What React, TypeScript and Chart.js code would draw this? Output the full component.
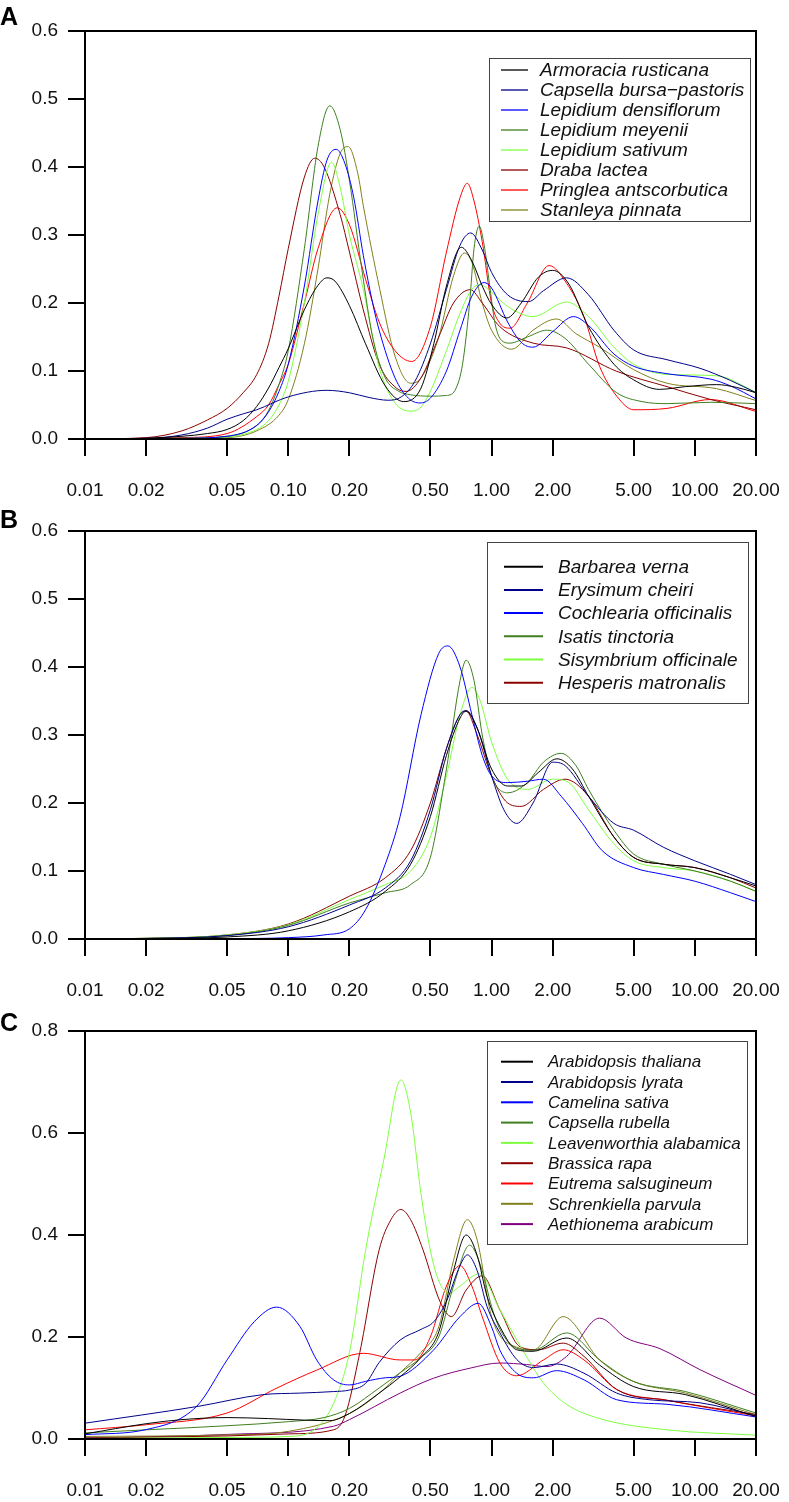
import React, { useEffect, useRef } from "react";
import { Chart, registerables } from "chart.js";

Chart.register(...registerables);

// ---------- tick values ----------
const X_TICKS = [0.01, 0.02, 0.05, 0.1, 0.2, 0.5, 1, 2, 5, 10, 20];
const Y_TICKS_AB = [0, 0.1, 0.2, 0.3, 0.4, 0.5, 0.6];
const Y_TICKS_C = [0, 0.2, 0.4, 0.6, 0.8];

// ---------- colours ----------
const C_BLACK = "#000000";
const C_NAVY = "#00008B";
const C_BLUE = "#0000FF";
const C_DKGREEN = "#3F7F1F";
const C_LTGREEN = "#7FFF3F";
const C_DKRED = "#8B0000";
const C_RED = "#FF0000";
const C_OLIVE = "#80801F";
const C_PURPLE = "#800080";

// ---------- panel A series: [x, density] ----------
const armoraciaRusticana = [[0.01,0],[0.02,0.001],[0.03,0.004],[0.04,0.008],[0.05,0.014],[0.06,0.027],[0.07,0.048],[0.08,0.075],[0.09,0.105],[0.1,0.133],[0.12,0.19],[0.14,0.226],[0.155,0.237],[0.17,0.232],[0.2,0.196],[0.24,0.14],[0.3,0.078],[0.37,0.055],[0.45,0.075],[0.52,0.14],[0.6,0.225],[0.71,0.282],[0.8,0.262],[0.9,0.225],[1.0,0.198],[1.19,0.178],[1.4,0.2],[1.7,0.238],[2.0,0.248],[2.4,0.228],[3,0.165],[4,0.11],[5,0.087],[6.7,0.073],[9,0.077],[12.8,0.08],[16,0.076],[20,0.068]];
const capsellaBursaPastoris = [[0.01,0],[0.02,0.001],[0.03,0.006],[0.04,0.016],[0.05,0.029],[0.06,0.037],[0.07,0.043],[0.1,0.062],[0.155,0.0716],[0.2,0.068],[0.25,0.061],[0.31,0.057],[0.36,0.062],[0.42,0.085],[0.5,0.14],[0.6,0.22],[0.7,0.285],[0.79,0.303],[0.9,0.278],[1.0,0.245],[1.2,0.212],[1.52,0.202],[1.8,0.218],[2.34,0.237],[3,0.212],[4,0.16],[5,0.131],[7.3,0.1166],[10.6,0.104],[15,0.086],[20,0.068]];
const lepidiumDensiflorum = [[0.01,0],[0.03,0.001],[0.05,0.004],[0.07,0.02],[0.08,0.04],[0.09,0.07],[0.1,0.11],[0.12,0.225],[0.14,0.35],[0.155,0.41],[0.172,0.426],[0.19,0.405],[0.21,0.355],[0.234,0.27],[0.26,0.2],[0.28,0.16],[0.335,0.09],[0.39,0.06],[0.445,0.053],[0.5,0.06],[0.6,0.1],[0.7,0.16],[0.8,0.21],[0.92,0.23],[1.0,0.222],[1.2,0.172],[1.4,0.142],[1.6,0.135],[2.0,0.158],[2.53,0.18],[3,0.167],[4,0.125],[5,0.107],[7.3,0.096],[12,0.088],[15,0.078],[20,0.059]];
const lepidiumMeyenii = [[0.01,0],[0.03,0.001],[0.05,0.004],[0.07,0.02],[0.08,0.042],[0.09,0.08],[0.1,0.13],[0.12,0.28],[0.14,0.43],[0.16,0.49],[0.18,0.455],[0.2,0.38],[0.23,0.25],[0.26,0.15],[0.3,0.09],[0.35,0.07],[0.4,0.065],[0.5,0.063],[0.6,0.064],[0.67,0.075],[0.72,0.11],[0.78,0.2],[0.82,0.28],[0.87,0.313],[0.92,0.285],[0.97,0.235],[1.04,0.17],[1.12,0.145],[1.23,0.141],[1.5,0.15],[1.87,0.16],[2.3,0.148],[3,0.11],[4.13,0.068],[5.5,0.055],[7.3,0.052],[12,0.054],[20,0.052]];
const lepidiumSativum = [[0.01,0],[0.03,0.001],[0.05,0.003],[0.07,0.014],[0.08,0.027],[0.09,0.05],[0.1,0.085],[0.12,0.2],[0.14,0.33],[0.1635,0.407],[0.18,0.37],[0.2,0.3],[0.234,0.22],[0.26,0.15],[0.282,0.102],[0.335,0.053],[0.405,0.041],[0.45,0.047],[0.5,0.07],[0.6,0.13],[0.7,0.185],[0.8,0.22],[0.877,0.227],[1.0,0.216],[1.2,0.195],[1.6,0.18],[2.34,0.2015],[3,0.18],[4,0.135],[5,0.11],[7.3,0.095],[12.8,0.093],[20,0.069]];
const drabaLactea = [[0.01,0],[0.02,0.002],[0.03,0.012],[0.04,0.028],[0.05,0.045],[0.06,0.068],[0.07,0.095],[0.08,0.14],[0.09,0.21],[0.1,0.28],[0.12,0.385],[0.135,0.413],[0.15,0.4],[0.18,0.33],[0.2,0.275],[0.234,0.19],[0.28,0.11],[0.34,0.075],[0.38,0.07],[0.45,0.09],[0.55,0.15],[0.65,0.2],[0.786,0.2196],[0.9,0.2],[1.1,0.165],[1.6,0.141],[2.34,0.134],[4.13,0.0995],[7.3,0.077],[12,0.058],[20,0.043]];
const pringleaAntscorbutica = [[0.01,0],[0.03,0.002],[0.05,0.008],[0.07,0.033],[0.08,0.05],[0.09,0.08],[0.1,0.11],[0.12,0.2],[0.14,0.28],[0.174,0.34],[0.2,0.315],[0.24,0.235],[0.28,0.172],[0.335,0.13],[0.405,0.114],[0.5,0.165],[0.6,0.275],[0.7,0.355],[0.76,0.376],[0.82,0.35],[0.9,0.29],[1.0,0.2],[1.1,0.17],[1.233,0.163],[1.5,0.2],[1.92,0.255],[2.34,0.229],[2.85,0.18],[3.4,0.107],[4.13,0.063],[5,0.043],[7.3,0.045],[11.9,0.058],[20,0.0406]];
const stanleyaPinnata = [[0.01,0],[0.03,0.001],[0.05,0.002],[0.07,0.012],[0.09,0.035],[0.1,0.058],[0.12,0.14],[0.14,0.25],[0.16,0.36],[0.18,0.42],[0.197,0.43],[0.22,0.39],[0.234,0.343],[0.282,0.22],[0.335,0.122],[0.4,0.082],[0.45,0.09],[0.55,0.15],[0.65,0.24],[0.735,0.2735],[0.8,0.26],[0.9,0.2],[1.0,0.16],[1.256,0.132],[1.6,0.16],[2.09,0.1765],[2.6,0.155],[3.4,0.135],[5,0.102],[7.3,0.082],[12.8,0.074],[20,0.0565]];

// ---------- panel B series ----------
const barbareaVerna = [[0.01,0],[0.02,0.0005],[0.05,0.003],[0.1,0.012],[0.2,0.04],[0.3,0.07],[0.4,0.11],[0.5,0.18],[0.6,0.27],[0.7,0.325],[0.75,0.335],[0.85,0.31],[1.0,0.25],[1.2,0.225],[1.4,0.225],[1.7,0.245],[2.1,0.265],[2.5,0.25],[3,0.21],[4,0.15],[5,0.12],[7,0.11],[10,0.105],[15,0.09],[20,0.078]];
const erysimumCheiri = [[0.01,0],[0.02,0.0008],[0.05,0.005],[0.1,0.018],[0.2,0.05],[0.3,0.075],[0.4,0.115],[0.5,0.19],[0.6,0.28],[0.7,0.33],[0.75,0.336],[0.85,0.31],[1.0,0.24],[1.15,0.19],[1.33,0.17],[1.6,0.2],[2.0,0.26],[2.3,0.255],[3,0.21],[4,0.17],[5,0.16],[7,0.135],[10,0.115],[15,0.095],[20,0.08]];
const cochleariaOfficinalis = [[0.01,0],[0.05,0.0005],[0.1,0.002],[0.15,0.006],[0.2,0.015],[0.24,0.043],[0.3,0.11],[0.355,0.18],[0.45,0.33],[0.55,0.42],[0.61,0.431],[0.7,0.4],[0.8,0.33],[0.9,0.27],[1.0,0.24],[1.2,0.23],[1.5,0.232],[1.8,0.235],[2.2,0.21],[2.8,0.17],[3.5,0.13],[5,0.105],[7,0.095],[10,0.085],[15,0.068],[20,0.055]];
const isatisTinctoria = [[0.01,0],[0.02,0.001],[0.05,0.005],[0.1,0.02],[0.2,0.053],[0.3,0.068],[0.4,0.08],[0.5,0.12],[0.6,0.25],[0.7,0.38],[0.75,0.41],[0.82,0.38],[0.9,0.3],[1.0,0.24],[1.2,0.215],[1.5,0.23],[1.8,0.26],[2.2,0.273],[2.6,0.255],[3,0.22],[4,0.16],[5,0.125],[7,0.11],[10,0.1],[15,0.085],[20,0.07]];
const sisymbriumOfficinale = [[0.01,0],[0.02,0.001],[0.05,0.006],[0.1,0.021],[0.2,0.058],[0.3,0.08],[0.4,0.1],[0.5,0.15],[0.6,0.24],[0.7,0.33],[0.8,0.37],[0.88,0.35],[1.0,0.29],[1.2,0.235],[1.5,0.22],[2.0,0.235],[2.4,0.23],[3,0.19],[4,0.14],[5,0.115],[7,0.105],[10,0.1],[15,0.085],[20,0.07]];
const hesperisMatronalis = [[0.01,0],[0.02,0.001],[0.05,0.006],[0.1,0.022],[0.2,0.063],[0.3,0.09],[0.4,0.13],[0.5,0.2],[0.6,0.28],[0.7,0.33],[0.75,0.335],[0.85,0.3],[1.0,0.24],[1.2,0.2],[1.4,0.195],[1.8,0.22],[2.3,0.235],[3,0.21],[4,0.15],[5,0.12],[7,0.11],[10,0.105],[15,0.09],[20,0.075]];

// ---------- panel C series ----------
const arabidopsisThaliana = [[0.01,0.01],[0.02,0.03],[0.03,0.038],[0.05,0.042],[0.08,0.04],[0.12,0.037],[0.16,0.036],[0.2,0.05],[0.28,0.09],[0.355,0.122],[0.45,0.16],[0.55,0.21],[0.65,0.33],[0.75,0.4],[0.85,0.36],[0.95,0.28],[1.1,0.22],[1.33,0.175],[1.6,0.172],[2.34,0.198],[3.4,0.145],[4.98,0.103],[9,0.087],[20,0.044]];
const arabidopsisLyrata = [[0.01,0.031],[0.036,0.064],[0.075,0.087],[0.114,0.09],[0.167,0.093],[0.2,0.096],[0.24,0.109],[0.28,0.15],[0.355,0.194],[0.45,0.215],[0.52,0.23],[0.6,0.27],[0.7,0.34],[0.76,0.361],[0.85,0.33],[0.95,0.26],[1.1,0.208],[1.33,0.156],[1.61,0.14],[2.09,0.147],[2.85,0.129],[4.13,0.09],[5.97,0.077],[10.6,0.071],[20,0.0454]];
const camelinaSativa = [[0.01,0.0085],[0.02,0.0185],[0.0354,0.064],[0.05,0.155],[0.068,0.23],[0.0877,0.2586],[0.114,0.221],[0.138,0.155],[0.167,0.116],[0.2,0.106],[0.24,0.113],[0.3,0.12],[0.355,0.123],[0.517,0.174],[0.7,0.24],[0.86,0.266],[1.0,0.22],[1.1,0.174],[1.33,0.129],[1.61,0.12],[2.09,0.134],[2.85,0.116],[4.13,0.077],[7.3,0.068],[20,0.0432]];
const capsellaRubella = [[0.01,0.012],[0.02,0.018],[0.05,0.026],[0.1,0.034],[0.15,0.042],[0.2,0.06],[0.28,0.1],[0.355,0.13],[0.45,0.16],[0.55,0.2],[0.65,0.3],[0.78,0.38],[0.9,0.33],[1.0,0.26],[1.1,0.215],[1.33,0.178],[1.6,0.174],[2.34,0.208],[3.4,0.155],[4.98,0.113],[9,0.093],[20,0.051]];
const leavenworthiaAlabamica = [[0.01,0.001],[0.05,0.003],[0.1,0.005],[0.138,0.022],[0.167,0.07],[0.2,0.17],[0.24,0.37],[0.295,0.547],[0.358,0.704],[0.4,0.64],[0.45,0.48],[0.5,0.37],[0.55,0.31],[0.62,0.286],[0.7,0.3],[0.87,0.324],[1.1,0.253],[1.42,0.175],[1.8,0.11],[2.34,0.068],[3.4,0.04],[7.3,0.018],[20,0.0075]];
const brassicaRapa = [[0.01,0.002],[0.05,0.006],[0.1,0.01],[0.167,0.018],[0.19,0.045],[0.225,0.17],[0.28,0.371],[0.32,0.43],[0.358,0.45],[0.4,0.43],[0.46,0.371],[0.557,0.27],[0.635,0.24],[0.75,0.292],[0.9,0.32],[1.1,0.253],[1.38,0.181],[1.7,0.175],[2.25,0.188],[2.85,0.162],[4.13,0.097],[7.3,0.076],[20,0.048]];
const eutremaSalsugineum = [[0.01,0.018],[0.02,0.028],[0.05,0.051],[0.088,0.1],[0.138,0.135],[0.234,0.168],[0.355,0.155],[0.42,0.155],[0.5,0.2],[0.6,0.3],[0.7,0.34],[0.8,0.3],[0.9,0.24],[1.1,0.149],[1.33,0.124],[1.8,0.155],[2.25,0.175],[2.85,0.155],[4.13,0.097],[7.3,0.0758],[20,0.0454]];
const schrenkiellaParvula = [[0.01,0.005],[0.05,0.008],[0.1,0.015],[0.2,0.05],[0.3,0.1],[0.355,0.13],[0.45,0.17],[0.55,0.22],[0.65,0.35],[0.76,0.43],[0.85,0.39],[1.0,0.24],[1.33,0.18],[1.61,0.175],[2.25,0.24],[3.4,0.155],[4.98,0.113],[9,0.09],[20,0.0477]];
const aethionemaArabicum = [[0.01,0.002],[0.05,0.009],[0.167,0.025],[0.2,0.038],[0.355,0.09],[0.517,0.119],[0.786,0.139],[1.1,0.149],[1.49,0.146],[1.87,0.142],[2.34,0.162],[3.4,0.237],[4.6,0.198],[6.75,0.177],[10.6,0.136],[20,0.0855]];

// ---------- panel definitions ----------
const PANEL_A_LABELS = ["Armoracia rusticana","Capsella bursa\u2212pastoris","Lepidium densiflorum","Lepidium meyenii","Lepidium sativum","Draba lactea","Pringlea antscorbutica","Stanleya pinnata"];
const PANEL_A_SERIES = [armoraciaRusticana, capsellaBursaPastoris, lepidiumDensiflorum, lepidiumMeyenii, lepidiumSativum, drabaLactea, pringleaAntscorbutica, stanleyaPinnata];
const PANEL_A_COLORS = [C_BLACK, C_NAVY, C_BLUE, C_DKGREEN, C_LTGREEN, C_DKRED, C_RED, C_OLIVE];

const PANEL_B_LABELS = ["Barbarea verna","Erysimum cheiri","Cochlearia officinalis","Isatis tinctoria","Sisymbrium officinale","Hesperis matronalis"];
const PANEL_B_SERIES = [barbareaVerna, erysimumCheiri, cochleariaOfficinalis, isatisTinctoria, sisymbriumOfficinale, hesperisMatronalis];
const PANEL_B_COLORS = [C_BLACK, C_NAVY, C_BLUE, C_DKGREEN, C_LTGREEN, C_DKRED];

const PANEL_C_LABELS = ["Arabidopsis thaliana","Arabidopsis lyrata","Camelina sativa","Capsella rubella","Leavenworthia alabamica","Brassica rapa","Eutrema salsugineum","Schrenkiella parvula","Aethionema arabicum"];
const PANEL_C_SERIES = [arabidopsisThaliana, arabidopsisLyrata, camelinaSativa, capsellaRubella, leavenworthiaAlabamica, brassicaRapa, eutremaSalsugineum, schrenkiellaParvula, aethionemaArabicum];
const PANEL_C_COLORS = [C_BLACK, C_NAVY, C_BLUE, C_DKGREEN, C_LTGREEN, C_DKRED, C_RED, C_OLIVE, C_PURPLE];

const FONT = '"Liberation Sans", Arial, Helvetica, sans-serif';

const framePlugin = {
  id: "frameLegend",
  afterDraw(chart: any, _args: any, opts: any) {
    const ctx = chart.ctx;
    const ca = chart.chartArea;
    ctx.save();
    // plot frame
    ctx.strokeStyle = "#000";
    ctx.lineWidth = 2;
    ctx.strokeRect(ca.left, ca.top, ca.right - ca.left, ca.bottom - ca.top);
    // legend box
    const L = opts.legend;
    if (L) {
      ctx.fillStyle = "#fff";
      ctx.fillRect(L.x1, L.y1, L.x2 - L.x1, L.y2 - L.y1);
      ctx.strokeStyle = "#444";
      ctx.lineWidth = 1;
      ctx.strokeRect(L.x1 + 0.5, L.y1 + 0.5, L.x2 - L.x1, L.y2 - L.y1);
      ctx.font = "italic " + L.fontSize + "px " + FONT;
      ctx.textBaseline = "middle";
      ctx.textAlign = "left";
      chart.data.datasets.forEach((ds: any, i: number) => {
        const y = L.row0 + i * L.rowGap;
        ctx.strokeStyle = ds.borderColor;
        ctx.lineWidth = L.lineWidth;
        ctx.beginPath();
        ctx.moveTo(L.lx1, y);
        ctx.lineTo(L.lx2, y);
        ctx.stroke();
        ctx.fillStyle = "#111";
        ctx.fillText(ds.label, L.tx, y + 1);
      });
    }
    // panel letter
    ctx.fillStyle = "#000";
    ctx.font = "bold 25px " + FONT;
    ctx.textBaseline = "alphabetic";
    ctx.textAlign = "left";
    ctx.fillText(opts.letter, 0, opts.letterY);
    ctx.restore();
  },
};

type PanelProps = {
  top: number;
  height: number;
  labels: string[];
  series: number[][][];
  colors: string[];
  yTicks: number[];
  yMax: number;
  letter: string;
  letterY: number;
  legend: any;
};

function Panel(p: PanelProps) {
  const ref = useRef<HTMLCanvasElement | null>(null);
  useEffect(() => {
    if (!ref.current) return;
    const datasets = p.series.map((s, i) => ({
      label: p.labels[i],
      data: s.map(([x, y]) => ({ x, y })),
      borderColor: p.colors[i],
      backgroundColor: p.colors[i],
      borderWidth: 1,
      pointRadius: 0,
      pointHoverRadius: 0,
      fill: false,
      cubicInterpolationMode: "monotone" as const,
    }));
    const chart = new Chart(ref.current, {
      type: "line",
      data: { datasets },
      plugins: [framePlugin],
      options: {
        animation: false,
        responsive: false,
        devicePixelRatio: 1,
        events: [],
        layout: { padding: { top: 31, right: 33, left: 0, bottom: 0 } },
        plugins: {
          legend: { display: false },
          tooltip: { enabled: false },
          frameLegend: { legend: p.legend, letter: p.letter, letterY: p.letterY },
        } as any,
        scales: {
          x: {
            type: "logarithmic",
            min: 0.01,
            max: 20,
            afterBuildTicks: (axis: any) => {
              axis.ticks = X_TICKS.map((v) => ({ value: v }));
            },
            afterFit: (axis: any) => {
              axis.height = p.height - 439;
              axis.paddingLeft = 0;
              axis.paddingRight = 0;
            },
            ticks: {
              autoSkip: false,
              maxRotation: 0,
              minRotation: 0,
              padding: 23,
              color: "#111",
              font: { family: FONT, size: 19 },
              callback: (v: any) => Number(v).toFixed(2),
            },
            grid: { drawOnChartArea: false, drawTicks: true, tickLength: 17, color: "#000", lineWidth: 2 },
            border: { display: true, color: "#000", width: 2 },
          },
          y: {
            type: "linear",
            min: 0,
            max: p.yMax,
            afterBuildTicks: (axis: any) => {
              axis.ticks = p.yTicks.map((v) => ({ value: v }));
            },
            afterFit: (axis: any) => {
              axis.width = 85;
              axis.paddingTop = 0;
              axis.paddingBottom = 0;
            },
            ticks: {
              padding: 10,
              color: "#111",
              font: { family: FONT, size: 19 },
              callback: (v: any) => Number(v).toFixed(1),
            },
            grid: { drawOnChartArea: false, drawTicks: true, tickLength: 17, color: "#000", lineWidth: 2 },
            border: { display: true, color: "#000", width: 2 },
          },
        },
      } as any,
    });
    return () => chart.destroy();
  }, []);
  return (
    <canvas
      ref={ref}
      width={789}
      height={p.height}
      style={{ position: "absolute", left: 0, top: p.top, width: 789, height: p.height }}
    />
  );
}

export default function App() {
  return (
    <div style={{ position: "absolute", left: 0, top: 0, width: 789, height: 1502, background: "#fff", overflow: "hidden" }}>
      <Panel
        top={0}
        height={500}
        labels={PANEL_A_LABELS}
        series={PANEL_A_SERIES}
        colors={PANEL_A_COLORS}
        yTicks={Y_TICKS_AB}
        yMax={0.6}
        letter="A"
        letterY={25}
        legend={{ x1: 489, y1: 58, x2: 750, y2: 221, row0: 70, rowGap: 20, lx1: 501, lx2: 528, tx: 540, fontSize: 19, lineWidth: 1.3 }}
      />
      <Panel
        top={500}
        height={500}
        labels={PANEL_B_LABELS}
        series={PANEL_B_SERIES}
        colors={PANEL_B_COLORS}
        yTicks={Y_TICKS_AB}
        yMax={0.6}
        letter="B"
        letterY={28}
        legend={{ x1: 487, y1: 42, x2: 748, y2: 203, row0: 66.7, rowGap: 23.2, lx1: 504, lx2: 543, tx: 558, fontSize: 19, lineWidth: 2 }}
      />
      <Panel
        top={1000}
        height={502}
        labels={PANEL_C_LABELS}
        series={PANEL_C_SERIES}
        colors={PANEL_C_COLORS}
        yTicks={Y_TICKS_C}
        yMax={0.8}
        letter="C"
        letterY={31}
        legend={{ x1: 487, y1: 41, x2: 747, y2: 244, row0: 61.7, rowGap: 20.3, lx1: 501, lx2: 533, tx: 548, fontSize: 17, lineWidth: 2 }}
      />
    </div>
  );
}
